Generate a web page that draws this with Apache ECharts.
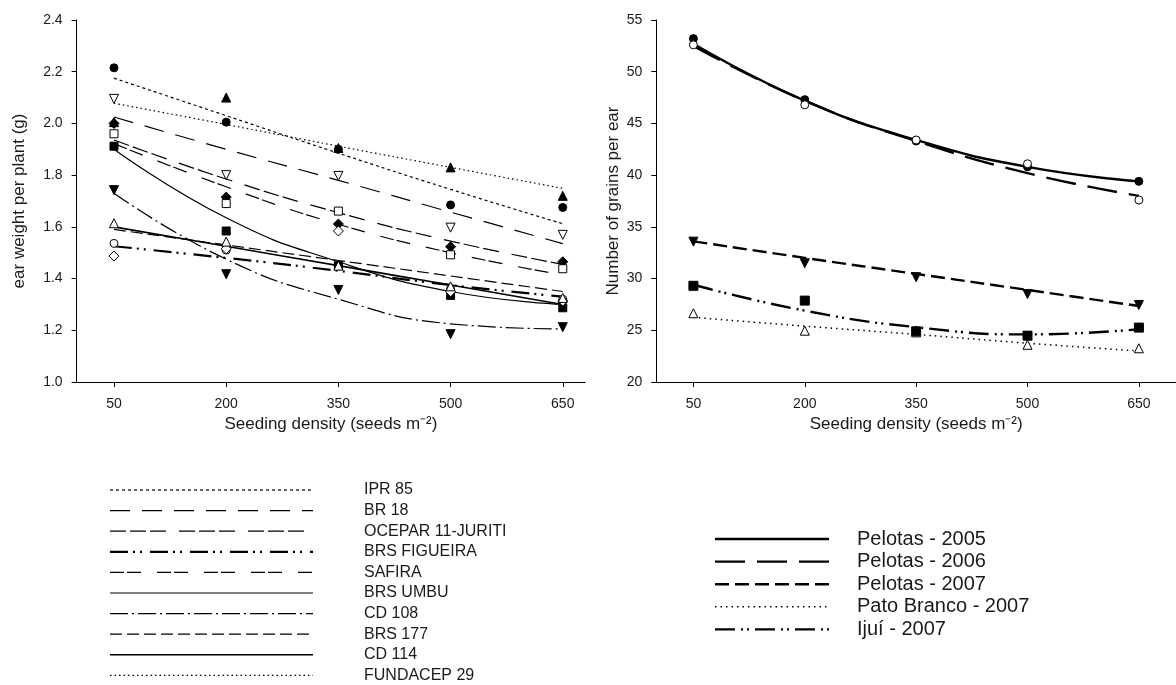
<!DOCTYPE html>
<html><head><meta charset="utf-8">
<script src="https://cdn.jsdelivr.net/npm/echarts@6/dist/echarts.min.js"></script>
<style>html,body{margin:0;background:#fff}#c{width:1176px;height:685px}</style>
</head><body><div id="c"></div>
<script>
// ---------- DATA ----------
const densities = [50, 200, 350, 500, 650];
const leftTitleY = 'ear weight per plant (g)';
const rightTitleY = 'Number of grains per ear';
const xTitle = 'Seeding density (seeds m\u207B\u00B2)';

// Left panel: cultivars (observed points, fitted curve read at each density)
const cultivars = ['IPR 85','BR 18','OCEPAR 11-JURITI','BRS FIGUEIRA','SAFIRA','BRS UMBU','CD 108','BRS 177','CD 114','FUNDACEP 29'];
const ptsIPR85      = [2.215, 2.005, 1.90, 1.685, 1.675];
const fitIPR85      = [2.175, 2.030, 1.885, 1.745, 1.612];
const ptsBR18       = [2.095, 1.800, 1.797, 1.597, 1.569];
const fitBR18       = [2.025, 1.900, 1.780, 1.657, 1.535];
const ptsOCEPAR     = [2.000, 1.715, 1.611, 1.523, 1.465];
const fitOCEPAR     = [1.936, 1.785, 1.655, 1.545, 1.455];
const ptsFIGUEIRA   = [1.536, 1.510, 1.450, 1.360, 1.320];
const fitFIGUEIRA   = [1.525, 1.480, 1.430, 1.375, 1.330];
const ptsSAFIRA     = [1.960, 1.690, 1.661, 1.492, 1.438];
const fitSAFIRA     = [1.922, 1.755, 1.610, 1.500, 1.414];
const ptsUMBU       = [1.912, 1.584, 1.450, 1.335, 1.287];
const fitUMBU       = [1.900, 1.635, 1.465, 1.350, 1.300];
const ptsCD108      = [1.742, 1.417, 1.356, 1.185, 1.212];
const fitCD108      = [1.730, 1.475, 1.320, 1.225, 1.205];
const ptsBRS177     = [1.487, 1.515, 1.584, 1.349, 1.313];
const fitBRS177     = [1.590, 1.530, 1.470, 1.410, 1.350];
const ptsCD114      = [1.614, 1.543, 1.450, 1.370, 1.325];
const fitCD114      = [1.600, 1.525, 1.450, 1.375, 1.300];
const ptsFUNDACEP   = [2.005, 2.100, 1.905, 1.830, 1.720];
const fitFUNDACEP   = [2.078, 1.996, 1.912, 1.830, 1.749];

// Right panel: environments
const environments = ['Pelotas - 2005','Pelotas - 2006','Pelotas - 2007','Pato Branco - 2007','Ijuí - 2007'];
const ptsPel2005  = [53.2, 47.3, 43.3, 40.8, 39.4];
const fitPel2005  = [52.7, 47.2, 43.4, 40.8, 39.4];
const ptsPel2006  = [52.6, 46.8, 43.4, 41.1, 37.6];
const fitPel2006  = [52.5, 47.2, 43.3, 40.2, 38.0];
const ptsPel2007  = [33.57, 31.48, 30.13, 28.5, 27.45];
const fitPel2007  = [33.6, 32.0, 30.45, 28.9, 27.35];
const ptsPato2007 = [26.65, 24.96, 24.8, 23.6, 23.26];
const fitPato2007 = [26.25, 25.4, 24.6, 23.75, 23.0];
const ptsIjui2007 = [29.3, 27.87, 24.9, 24.48, 25.26];
const fitIjui2007 = [29.4, 26.9, 25.3, 24.6, 25.1];

// ---------- STYLES ----------
const FONT = 'Liberation Sans, Arial, sans-serif';
const TXT = '#1a1a1a';
const leftSeries = [
  {name:'IPR 85', pts:ptsIPR85, fit:fitIPR85, dash:[3,3], w:1.2, sym:'circle', fill:true, size:8},
  {name:'BR 18', pts:ptsBR18, fit:fitBR18, dash:[20,12], w:1.2, sym:'triangle', rot:180, fill:false, size:9},
  {name:'OCEPAR 11-JURITI', pts:ptsOCEPAR, fit:fitOCEPAR, dash:[16,4,16,4,16,13], w:1.2, sym:'diamond', fill:true, size:10},
  {name:'BRS FIGUEIRA', pts:ptsFIGUEIRA, fit:fitFIGUEIRA, dash:[18,5,2,5,2,8], w:2.2, sym:'circle', fill:false, size:8},
  {name:'SAFIRA', pts:ptsSAFIRA, fit:fitSAFIRA, dash:[14,3,14,16], w:1.2, sym:'rect', fill:false, size:8},
  {name:'BRS UMBU', pts:ptsUMBU, fit:fitUMBU, dash:'solid', w:1.2, sym:'rect', fill:true, size:8},
  {name:'CD 108', pts:ptsCD108, fit:fitCD108, dash:[18,4,2,4], w:1.2, sym:'triangle', rot:180, fill:true, size:9},
  {name:'BRS 177', pts:ptsBRS177, fit:fitBRS177, dash:[12,5], w:1.2, sym:'diamond', fill:false, size:10},
  {name:'CD 114', pts:ptsCD114, fit:fitCD114, dash:'solid', w:1.6, sym:'triangle', fill:false, size:9},
  {name:'FUNDACEP 29', pts:ptsFUNDACEP, fit:fitFUNDACEP, dash:[1.5,3], w:1.2, sym:'triangle', fill:true, size:9}
];
const rightSeries = [
  {name:'Pelotas - 2005', pts:ptsPel2005, fit:fitPel2005, dash:'solid', w:2.4, sym:'circle', fill:true, size:8},
  {name:'Pelotas - 2006', pts:ptsPel2006, fit:fitPel2006, dash:[30,12], w:2.4, sym:'circle', fill:false, size:8},
  {name:'Pelotas - 2007', pts:ptsPel2007, fit:fitPel2007, dash:[14,6], w:2.4, sym:'triangle', rot:180, fill:true, size:9},
  {name:'Pato Branco - 2007', pts:ptsPato2007, fit:fitPato2007, dash:[1.5,4], w:1.5, sym:'triangle', fill:false, size:9},
  {name:'Ijuí - 2007', pts:ptsIjui2007, fit:fitIjui2007, dash:[20,6,2,4,2,6], w:2.4, sym:'rect', fill:true, size:9}
];

function xAxis(gi, max) {
  return {type:'value', gridIndex:gi, min:0, max:max,
    name:xTitle, nameLocation:'middle', nameGap:33,
    nameTextStyle:{fontFamily:FONT, fontSize:17, color:TXT},
    axisLine:{show:true, onZero:false, lineStyle:{color:'#000', width:1}},
    axisTick:{show:true, length:5, customValues:densities, lineStyle:{color:'#000'}},
    axisLabel:{customValues:densities, margin:15, fontSize:14, color:TXT, fontFamily:FONT},
    splitLine:{show:false}};
}
function yAxis(gi, min, max, interval, name, gap, dec) {
  return {type:'value', gridIndex:gi, min:min, max:max, interval:interval,
    name:name, nameLocation:'middle', nameGap:gap,
    nameTextStyle:{fontFamily:FONT, fontSize:17, color:TXT},
    axisLine:{show:true, onZero:false, lineStyle:{color:'#000', width:1}},
    axisTick:{show:true, length:5, lineStyle:{color:'#000'}},
    axisLabel:{margin:14, fontSize:14, color:TXT, fontFamily:FONT,
      formatter: v => dec ? v.toFixed(1) : String(Math.round(v))},
    splitLine:{show:false}};
}

const series = [];
function addPanel(list, gi) {
  list.forEach(s => {
    series.push({type:'line', name:s.name, xAxisIndex:gi, yAxisIndex:gi, smooth:0.5,
      symbol:'none', silent:true, z:3,
      lineStyle:{color:'#000', width:s.w, type:s.dash},
      data: densities.map((x,i)=>[x, s.fit[i]])});
    series.push({type:'scatter', name:s.name+' obs', xAxisIndex:gi, yAxisIndex:gi, z:5,
      symbol:s.sym, symbolSize:s.size, symbolRotate:s.rot||0,
      itemStyle:{color:s.fill?'#000':'#fff', borderColor:'#000', borderWidth:1, opacity:1},
      data: densities.map((x,i)=>[x, s.pts[i]])});
  });
}
addPanel(leftSeries, 0);
addPanel(rightSeries, 1);

// legends drawn with graphic elements
const graphic = [];
leftSeries.forEach((s,i) => {
  const y = 490 + i*20.6;
  graphic.push({type:'line', shape:{x1:110, y1:y, x2:313, y2:y},
    style:{stroke:'#000', lineWidth:s.w, lineDash:s.dash==='solid'?null:s.dash}});
  graphic.push({type:'text', x:364, y:y, style:{text:s.name, fill:TXT, font:'16px '+FONT, verticalAlign:'middle'}});
});
rightSeries.forEach((s,i) => {
  const y = 539 + i*22.6;
  graphic.push({type:'line', shape:{x1:715, y1:y, x2:829, y2:y},
    style:{stroke:'#000', lineWidth:s.w, lineDash:s.dash==='solid'?null:s.dash}});
  graphic.push({type:'text', x:857, y:y, style:{text:s.name, fill:TXT, font:'20px '+FONT, verticalAlign:'middle'}});
});

const chart = echarts.init(document.getElementById('c'), null, {renderer:'canvas'});
chart.setOption({
  animation:false,
  backgroundColor:'#fff',
  grid:[
    {left:76.6, top:20, width:508.6, height:362},
    {left:656.3, top:20, width:527.3, height:362}
  ],
  xAxis:[xAxis(0, 680), xAxis(1, 700)],
  yAxis:[yAxis(0, 1.0, 2.4, 0.2, leftTitleY, 49, true), yAxis(1, 20, 55, 5, rightTitleY, 34, false)],
  series: series,
  graphic: graphic
});
</script></body></html>
